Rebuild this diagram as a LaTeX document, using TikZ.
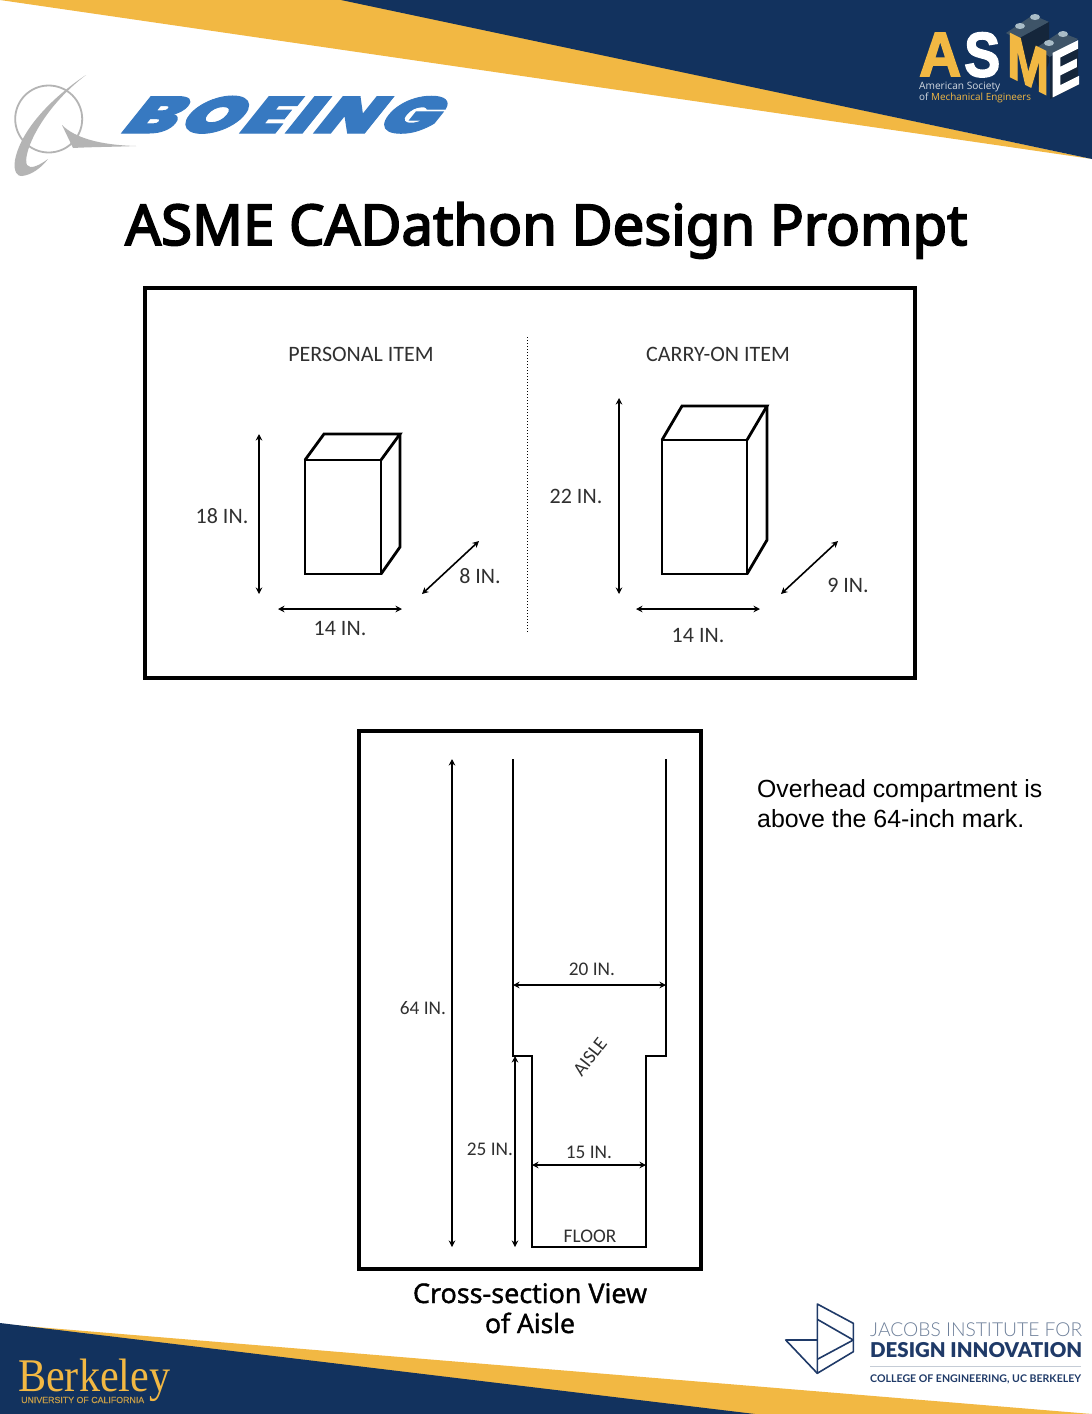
\documentclass[tikz,border=0pt]{standalone}
\usepackage{fontspec}
\usepackage{graphicx}
\usetikzlibrary{arrows.meta}
\setmainfont{Carlito}
\newfontfamily\titlef{Noto Sans}[FakeBold=3.2]
\newfontfamily\arialf{Liberation Sans}
\newfontfamily\asmef{Liberation Sans Bold}[FakeBold=2.5]
\newfontfamily\capf{Open Sans}[FakeBold=1.6]
\newfontfamily\asmesmall{Open Sans}
\newfontfamily\boeingf{Poppins Black}[FakeBold=2,LetterSpace=6]
\newfontfamily\timesf{Liberation Serif}
\newfontfamily\ucf{Liberation Sans}[FakeBold=0.4]
\newfontfamily\latolight{Lato Light}
\newfontfamily\latoheavy{Lato Black}
\newfontfamily\latosemi{Lato Bold}
\definecolor{navy}{HTML}{12325E}
\definecolor{gold}{HTML}{F2B843}
\definecolor{boeblue}{HTML}{3779C1}
\definecolor{boegray}{HTML}{B4B4B4}
\definecolor{slate}{HTML}{3E5468}
\definecolor{darkface}{HTML}{15263B}
\definecolor{stud}{HTML}{A9BCC7}
\definecolor{jnavy}{HTML}{1F3A68}
\definecolor{jgray}{HTML}{6D7F99}
\definecolor{labelc}{HTML}{303030}
\newcommand{\fitw}[2]{\resizebox{#1pt}{!}{#2}}
\newcommand{\fitwh}[3]{\resizebox{#1pt}{#2pt}{#3}}
\tikzset{
  frame/.style={draw=black,line width=4.6pt},
  solid2/.style={draw=black,line width=2.8pt,line join=miter},
  dimarrow/.style={draw=black,line width=1.6pt,{Stealth[length=6.5pt,width=6.5pt]}-{Stealth[length=6.5pt,width=6.5pt]}},
  dimlabel/.style={font=\fontsize{22}{26}\selectfont,text=labelc,inner sep=0pt,anchor=center},
  smalllabel/.style={font=\fontsize{19.3}{23}\selectfont,text=labelc,inner sep=0pt,anchor=center},
  txt/.style={inner sep=0pt,anchor=base west},
  txtc/.style={inner sep=0pt,anchor=base},
  jline/.style={draw=jnavy,line width=1.6pt,line join=round}
}
\begin{document}
\begin{tikzpicture}[x=1pt,y=-1pt]
\useasboundingbox (0,0) rectangle (1092,1414);
\fill[white] (0,0) rectangle (1092,1414);
% ---- banners
\fill[gold] (0,0) -- (345,0) -- (1092,159) -- cycle;
\fill[navy] (341,0) -- (1092,0) -- (1092,159) -- cycle;
\fill[gold] (0,1324) -- (1092,1414) -- (0,1414) -- cycle;
\fill[navy] (0,1323) -- (755,1414) -- (0,1414) -- cycle;
% ---- Boeing symbol
\draw[boegray,line width=1.8pt] (48.7,119) circle (33.5);
\fill[boegray] (86,75) .. controls (60,92) and (22,125) .. (15,160) .. controls (13,172) and (18,177) .. (22,176) .. controls (32,175) and (42,167) .. (48,159) .. controls (40,165) and (30,170) .. (27,165) .. controls (22,155) and (40,110) .. (86,75) -- cycle;
\fill[boegray] (62,125) .. controls (75,138) and (100,145) .. (136,146) .. controls (110,147) and (90,147) .. (73,148) -- cycle;
\node[txt,text=boeblue,xslant=0.8,transform shape] (boeing) at (118,133) {\fitwh{310}{37}{\boeingf BOEING}};
% ---- ASME logo
\node[txt,text=gold] (asmeA) at (919,76) {\fitwh{42}{43}{\asmef A}};
\node[txt,text=white] (asmeS) at (964,76.5) {\fitwh{36}{44}{\asmef S}};
\fill[slate] (1006,33) -- (1033,15) -- (1049,22) -- (1018,40) -- cycle;
\fill[darkface] (1016,40) -- (1049,22) -- (1049,62) -- (1040,90) -- cycle;
\fill[slate] (1036,48) -- (1060,32) -- (1078,39) -- (1050,57) -- cycle;
\fill[darkface] (1050,57) -- (1078,42) -- (1078,85) -- (1050,99) -- cycle;
\fill[stud] (1020,26) ellipse (5 and 3);
\fill[stud] (1035,17) ellipse (5 and 3);
\fill[stud] (1049,43) ellipse (5 and 3);
\fill[stud] (1063,34) ellipse (5 and 3);
\node[txt,text=gold,yslant=-0.5,transform shape] (asmeM) at (1007,75) {\fitwh{42}{43}{\asmef M}};
\node[txt,text=white,yslant=0.5,transform shape] (asmeE) at (1050,98) {\fitwh{30}{43}{\asmef E}};
\node[txt,text=white!82!navy] (asmeL1) at (919,89) {\fitw{81}{\asmesmall American Society}};
\node[txt,text=white!82!navy] (asmeL2) at (919,100) {\fitw{112}{\asmesmall of \textcolor{gold}{Mechanical Engineers}}};
% ---- title
\node[txt] (title) at (125,245) {\fitw{842}{\titlef ASME CADathon Design Prompt}};
% ---- upper frame
\draw[frame] (145,288) rectangle (915,678);
\coordinate (divT) at (527,337);
\coordinate (divB) at (527,632);
\draw[black,line width=1pt,dotted] (divT) -- (divB);
\node[dimlabel] (personal) at (361,354) {PERSONAL ITEM};
\node[dimlabel] (carryon) at (718,354) {CARRY-ON ITEM};
% personal cube
\coordinate (p1) at (305,460); \coordinate (p2) at (381,460); \coordinate (p3) at (381,574); \coordinate (p4) at (305,574);
\coordinate (p5) at (324,434); \coordinate (p6) at (400,434); \coordinate (p7) at (400,547);
\draw[solid2] (p1) -- (p2) -- (p3) -- (p4) -- cycle;
\draw[solid2] (p1) -- (p5) -- (p6) -- (p2);
\draw[solid2] (p6) -- (p7) -- (p3);
\coordinate (pa1) at (259,434); \coordinate (pa2) at (259,594);
\coordinate (pa3) at (278,609); \coordinate (pa4) at (402,609);
\coordinate (pa5) at (422,594); \coordinate (pa6) at (479,541);
\draw[dimarrow] (pa1) -- (pa2);
\draw[dimarrow] (pa3) -- (pa4);
\draw[dimarrow] (pa5) -- (pa6);
\node[dimlabel] (l18) at (222,516.5) {18 IN.};
\node[dimlabel] (l14a) at (340,628.5) {14 IN.};
\node[dimlabel] (l8) at (480,576.5) {8 IN.};
% carry-on cube
\coordinate (c1) at (662,440); \coordinate (c2) at (747,440); \coordinate (c3) at (747,574); \coordinate (c4) at (662,574);
\coordinate (c5) at (682,406); \coordinate (c6) at (767,406); \coordinate (c7) at (767,540);
\draw[solid2] (c1) -- (c2) -- (c3) -- (c4) -- cycle;
\draw[solid2] (c1) -- (c5) -- (c6) -- (c2);
\draw[solid2] (c6) -- (c7) -- (c3);
\coordinate (ca1) at (619,398); \coordinate (ca2) at (619,594);
\coordinate (ca3) at (636,609); \coordinate (ca4) at (760,609);
\coordinate (ca5) at (781,594); \coordinate (ca6) at (838,541);
\draw[dimarrow] (ca1) -- (ca2);
\draw[dimarrow] (ca3) -- (ca4);
\draw[dimarrow] (ca5) -- (ca6);
\node[dimlabel] (l22) at (576,496.5) {22 IN.};
\node[dimlabel] (l14b) at (698,635.5) {14 IN.};
\node[dimlabel] (l9) at (848,585.5) {9 IN.};
% ---- aisle frame
\draw[frame] (359,731) rectangle (701,1269);
\coordinate (a1) at (513,759); \coordinate (a2) at (513,1056); \coordinate (a3) at (532,1056); \coordinate (a4) at (532,1247);
\coordinate (a5) at (646,1247); \coordinate (a6) at (646,1056); \coordinate (a7) at (666,1056); \coordinate (a8) at (666,759);
\draw[solid2,line width=2.2pt] (a1) -- (a2) -- (a3) -- (a4) -- (a5) -- (a6) -- (a7) -- (a8);
\coordinate (h1) at (452,759); \coordinate (h2) at (452,1247);
\coordinate (h3) at (515,1056); \coordinate (h4) at (515,1247);
\coordinate (w1) at (513,985); \coordinate (w2) at (666,985);
\coordinate (w3) at (532,1165); \coordinate (w4) at (646,1165);
\draw[dimarrow] (h1) -- (h2);
\draw[dimarrow] (h3) -- (h4);
\draw[dimarrow] (w1) -- (w2);
\draw[dimarrow] (w3) -- (w4);
\node[smalllabel] (l64) at (423,1008.5) {64 IN.};
\node[smalllabel] (l25) at (490,1149.5) {25 IN.};
\node[smalllabel] (l20) at (592,969.5) {20 IN.};
\node[smalllabel] (l15) at (589,1152.5) {15 IN.};
\node[smalllabel] (floor) at (590,1236.5) {FLOOR};
\node[smalllabel,rotate=52] (aisle) at (590,1057) {AISLE};
% ---- side note
\node[txt] (note1) at (757,797) {\fitw{285}{\arialf Overhead compartment is}};
\node[txt] (note2) at (757,827) {\fitw{267}{\arialf above the 64-inch mark.}};
% ---- caption
\node[txtc] (cap1) at (530,1303) {\fitw{234}{\capf Cross-section View}};
\node[txtc] (cap2) at (530,1333) {\fitw{90}{\capf of Aisle}};
% ---- Berkeley
\node[txt,text=gold] (berk) at (18,1391) {\fitwh{152}{32.5}{\timesf Berkeley}};
\node[txt,text=gold!80!navy] (uc) at (21,1403) {\fitw{123}{\ucf UNIVERSITY OF CALIFORNIA}};
% ---- Jacobs logo
\coordinate (j1) at (817.3,1304); \coordinate (j2) at (853.3,1323.3); \coordinate (j3) at (853.3,1351.7); \coordinate (j4) at (817.3,1373.3);
\coordinate (j5) at (785.7,1340); \coordinate (j6) at (817.3,1340); \coordinate (j7) at (817.3,1319.3); \coordinate (j8) at (853.3,1340); \coordinate (j9) at (817.3,1359.3);
\draw[jline] (j1) -- (j2) -- (j3) -- (j4) -- cycle;
\draw[jline] (j4) -- (j5) -- (j6);
\draw[jline] (j7) -- (j8) -- (j9);
\node[txt,text=jgray] (jac1) at (870,1336) {\fitw{212}{\latolight JACOBS INSTITUTE FOR}};
\node[txt,text=jnavy] (jac2) at (870,1357) {\fitw{212}{\latoheavy DESIGN INNOVATION}};
\coordinate (jr1) at (870,1366); \coordinate (jr2) at (1081,1366);
\draw[jgray!40,line width=0.8pt] (jr1) -- (jr2);
\node[txt,text=jnavy] (jac3) at (870,1382) {\fitw{211}{\latosemi COLLEGE OF ENGINEERING, UC BERKELEY}};
\end{tikzpicture}
\end{document}
